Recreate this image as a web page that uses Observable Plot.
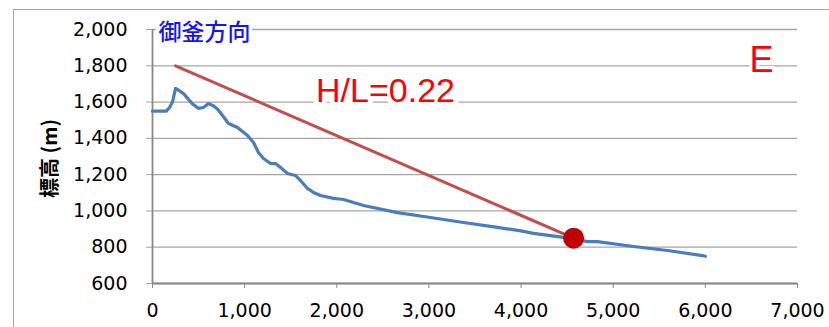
<!DOCTYPE html>
<html>
<head>
<meta charset="utf-8">
<script src="https://cdn.jsdelivr.net/npm/d3@7"></script>
<script src="https://cdn.jsdelivr.net/npm/@observablehq/plot@0.6"></script>
<style>
  html, body { margin: 0; padding: 0; background: #fff; }
  #wrap { position: relative; width: 829px; height: 327px; overflow: hidden; }
  #border { position: absolute; left: 13px; top: 9px; right: -10px; bottom: -10px;
            border-left: 1.5px solid #a6a6a6; border-top: 1.5px solid #a6a6a6; pointer-events: none; }
  #wrap svg { position: absolute; left: 0; top: 0; }
</style>
</head>
<body>
<div id="wrap"><div id="border"></div></div>
<script>
// Distance (m) along profile toward 御釜
const distance = [0, 150, 185, 217, 250, 300, 340, 390, 434, 500, 553, 608, 660, 705, 760, 825, 922, 1031, 1096, 1150, 1205, 1281, 1335, 1389, 1465, 1552, 1606, 1682, 1747, 1823, 1964, 2073, 2290, 2659, 3017, 3375, 3744, 4000, 4135, 4461, 4570, 4721, 4830, 5220, 5589, 5969, 6000];
// Elevation (m)
const elevation = [1550, 1550, 1570, 1600, 1675, 1660, 1645, 1615, 1590, 1565, 1570, 1592, 1580, 1562, 1526, 1482, 1460, 1416, 1377, 1322, 1289, 1261, 1261, 1240, 1206, 1195, 1168, 1124, 1102, 1085, 1069, 1063, 1030, 991, 964, 936, 909, 890, 876, 854, 848, 831, 831, 804, 782, 754, 750];
// H/L line: start (summit) and end point
const hlX = [250, 4570];
const hlY = [1800, 850];
const endX = [4570];
const endY = [850];

const xTicks = [0, 1000, 2000, 3000, 4000, 5000, 6000, 7000];
const yTicks = [600, 800, 1000, 1200, 1400, 1600, 1800, 2000];

const yLabel = "標高 (m)";
const title = "御釜方向";
const ratioLabel = "H/L=0.22";
const panelLabel = "E";

const profile = distance.map((d, i) => ({x: d, y: elevation[i]}));
const hl = hlX.map((d, i) => ({x: d, y: hlY[i]}));
const endPt = endX.map((d, i) => ({x: d, y: endY[i]}));
const fmt = d3.format(",");

const chart = Plot.plot({
  width: 829,
  height: 327,
  marginLeft: 152,
  marginRight: 32,
  marginTop: 29,
  marginBottom: 44,
  style: {fontFamily: "'DejaVu Sans', sans-serif", fontSize: "19px", color: "#000", background: "transparent"},
  x: {domain: [0, 7000]},
  y: {domain: [600, 2000]},
  marks: [
    Plot.gridY(yTicks, {stroke: "#a6a6a6", strokeOpacity: 1, strokeWidth: 1.3}),
    Plot.axisY(yTicks, {tickSize: 6, tickPadding: 19, tickFormat: fmt, stroke: "#a6a6a6", fill: "#000", label: null}),
    Plot.axisX(xTicks, {tickSize: 5, tickPadding: 15, tickFormat: fmt, stroke: "#888", fill: "#000", label: null}),
    Plot.ruleX([0], {stroke: "#888", strokeWidth: 1.8}),
    Plot.ruleY([600], {stroke: "#888", strokeWidth: 1.8}),
    Plot.line(profile, {x: "x", y: "y", stroke: "#4a7ebb", strokeWidth: 3.2, curve: "linear"}),
    Plot.line(hl, {x: "x", y: "y", stroke: "#c0504d", strokeWidth: 3}),
    Plot.dot(endPt, {x: "x", y: "y", r: 10.5, fill: "#c00000", stroke: "none"}),
    Plot.text([title], {frameAnchor: "top-left", dx: 6, dy: 3, textAnchor: "start", lineAnchor: "middle",
      fill: "#1515f0", stroke: "white", strokeWidth: 7, fontSize: 23, fontWeight: 500,
      fontFamily: "'Noto Sans CJK JP', sans-serif"}),
    Plot.text([ratioLabel], {frameAnchor: "top-left", dx: 233, dy: 62, textAnchor: "middle", lineAnchor: "middle",
      fill: "#ff0000", stroke: "white", strokeWidth: 10, fontSize: 34,
      fontFamily: "'Liberation Sans', Arial, sans-serif"}),
    Plot.text([panelLabel], {frameAnchor: "top-left", dx: 609, dy: 31, textAnchor: "middle", lineAnchor: "middle",
      fill: "#ff0000", stroke: "white", strokeWidth: 6, fontSize: 36,
      fontFamily: "'Liberation Sans', Arial, sans-serif"}),
    Plot.text([yLabel], {frameAnchor: "left", dx: -102, dy: 2, rotate: -90, textAnchor: "middle", lineAnchor: "middle",
      fill: "#000", fontSize: 20, fontWeight: "bold",
      fontFamily: "'Noto Sans CJK JP', sans-serif"})
  ]
});
document.getElementById("wrap").appendChild(chart);
</script>
</body>
</html>
